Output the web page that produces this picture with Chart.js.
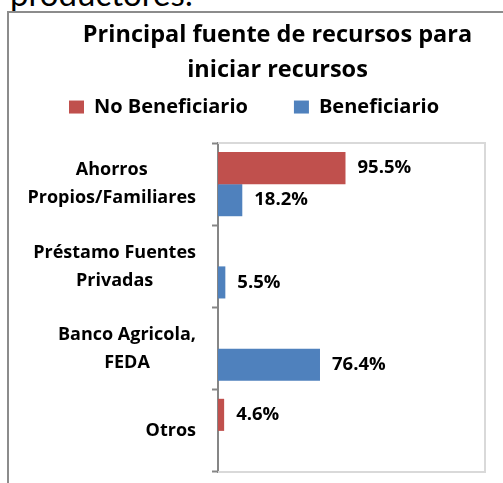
<!DOCTYPE html>
<html><head><meta charset="utf-8">
<script src="https://cdn.jsdelivr.net/npm/chart.js@4.4.0/dist/chart.umd.min.js"></script>
<style>
html,body{margin:0;padding:0;width:503px;height:483px;overflow:hidden;background:#fff;position:relative}
#doc{position:absolute;left:10px;top:-23px;font:33px/33px Lato,sans-serif;color:#000;white-space:nowrap}
#frame{position:absolute;left:7px;top:11px;width:600px;height:600px;border:2px solid #8c8c8c;box-sizing:border-box}
#c{position:absolute;left:0;top:0}
</style></head><body>
<div id="doc">productores:</div>
<div id="frame"></div>
<canvas id="c" width="532" height="483"></canvas>
<script>
const titleLines = ['Principal fuente de recursos para', 'iniciar recursos'];
const categories = [['Ahorros', 'Propios/Familiares'], ['Préstamo Fuentes', 'Privadas'], ['Banco Agricola,', 'FEDA'], 'Otros'];
const seriesNames = ['No Beneficiario', 'Beneficiario'];
const noBeneficiario = [95.5, null, null, 4.6];
const beneficiario = [18.2, 5.5, 76.4, null];
const seriesColors = ['#C0504D', '#4F81BD'];

const FONT = "'Open Sans'";

const valueLabels = {
  id: 'valueLabels',
  afterDatasetsDraw(chart) {
    const ctx = chart.ctx;
    ctx.save();
    ctx.font = "bold 18.5px " + FONT;
    ctx.fillStyle = '#000';
    ctx.textBaseline = 'middle';
    ctx.textAlign = 'left';
    chart.data.datasets.forEach((ds, di) => {
      const meta = chart.getDatasetMeta(di);
      meta.data.forEach((el, i) => {
        const v = ds.data[i];
        if (v == null) return;
        ctx.fillText(v.toFixed(1) + '%', el.x + 12, el.y);
      });
    });
    ctx.restore();
  }
};

const plotFrame = {
  id: 'plotFrame',
  beforeDatasetsDraw(chart) {
    const a = chart.chartArea, ctx = chart.ctx;
    ctx.save();
    ctx.strokeStyle = '#d9d9d9';
    ctx.lineWidth = 2;
    ctx.beginPath();
    ctx.moveTo(a.left, a.top); ctx.lineTo(a.right, a.top);
    ctx.lineTo(a.right, a.bottom); ctx.lineTo(a.left, a.bottom);
    ctx.stroke();
    ctx.restore();
  }
};

const yLabelAlign = {
  id: 'yLabelAlign',
  beforeDraw(chart) {
    const s = chart.scales.y;
    const items = s.getLabelItems(chart.chartArea);
    const ctx = chart.ctx;
    items.forEach(it => {
      if (it.__adj) return;
      ctx.save();
      ctx.font = it.font.string;
      const lines = Array.isArray(it.label) ? it.label : [it.label];
      const w = Math.max(...lines.map(l => ctx.measureText(l).width));
      ctx.restore();
      it.options.translation = [it.options.translation[0] - w / 2, it.options.translation[1]];
      it.options.textAlign = 'center';
      it.__adj = true;
    });
  }
};

new Chart(document.getElementById('c'), {
  type: 'bar',
  data: {
    labels: categories,
    datasets: [
      { label: seriesNames[0], data: noBeneficiario, backgroundColor: seriesColors[0], borderWidth: 0, categoryPercentage: 0.78, barPercentage: 1.0 },
      { label: seriesNames[1], data: beneficiario, backgroundColor: seriesColors[1], borderWidth: 0, categoryPercentage: 0.78, barPercentage: 1.0 }
    ]
  },
  plugins: [plotFrame, valueLabels, yLabelAlign],
  options: {
    responsive: false,
    animation: false,
    indexAxis: 'y',
    layout: { padding: { left: 23, right: 0, top: 0, bottom: 11 } },
    plugins: {
      title: {
        display: true, text: titleLines, color: '#000',
        font: { family: FONT, weight: 'bold', size: 23.5, lineHeight: 1.49 },
        padding: { top: 18, bottom: -37 }
      },
      legend: {
        display: true, position: 'top', align: 'start',
        labels: { color: '#000', font: { family: FONT, weight: 'bold', size: 20 }, boxWidth: 15, boxHeight: 13, padding: 46 }
      },
      tooltip: { enabled: false }
    },
    scales: {
      x: {
        type: 'linear', position: 'top', min: 0, max: 200, display: true,
        ticks: { display: false }, grid: { display: false }, border: { display: false },
        afterFit(s) { s.height = 16; }
      },
      y: {
        type: 'category', position: 'left',
        ticks: { color: '#000', font: { family: FONT, weight: 'bold', size: 18, lineHeight: 1.556 }, padding: 16, crossAlign: 'near' },
        grid: { offset: true, drawOnChartArea: false, drawTicks: true, tickLength: 6, tickColor: '#868686', tickWidth: 2 },
        border: { display: true, color: '#868686', width: 2 },
        afterFit(s) { s.width = 195; s.paddingTop = 0; s.paddingBottom = 0; }
      },
      y2: {
        type: 'category', position: 'right', display: true,
        ticks: { display: false }, grid: { display: false }, border: { display: false },
        afterFit(s) { s.width = 47; s.paddingTop = 0; s.paddingBottom = 0; }
      }
    }
  }
});
</script>
</body></html>
